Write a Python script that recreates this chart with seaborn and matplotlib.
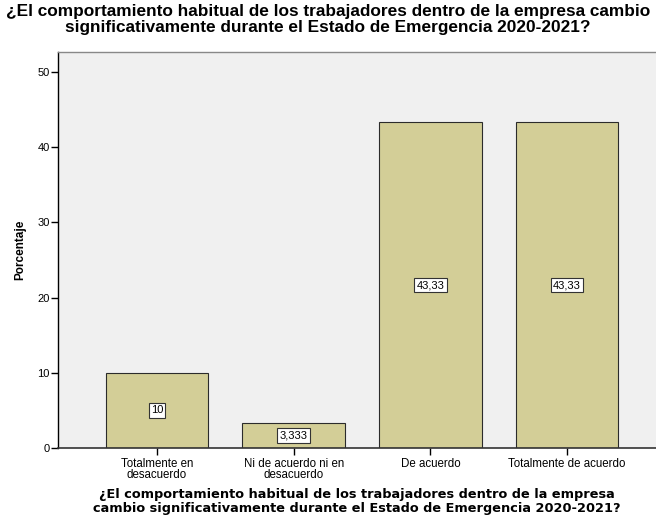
import matplotlib
matplotlib.use("Agg")
import matplotlib.pyplot as plt
import seaborn as sns
import pandas as pd

# Categories and percentages
categorias = ["Totalmente en\ndesacuerdo", "Ni de acuerdo ni en\ndesacuerdo",
              "De acuerdo", "Totalmente de acuerdo"]
porcentajes = [10.0, 3.333, 43.33, 43.33]
etiquetas = ["10", "3,333", "43,33", "43,33"]

titulo = ("¿El comportamiento habitual de los trabajadores dentro de la empresa cambio\n"
          "significativamente durante el Estado de Emergencia 2020-2021?")
titulo_x = ("¿El comportamiento habitual de los trabajadores dentro de la empresa\n"
            "cambio significativamente durante el Estado de Emergencia 2020-2021?")

df = pd.DataFrame({"categoria": categorias, "porcentaje": porcentajes})

sns.set_style("white")
plt.rcParams["font.family"] = ["Liberation Sans", "DejaVu Sans"]
plt.rcParams["text.color"] = "black"
plt.rcParams["axes.labelcolor"] = "black"
plt.rcParams["xtick.color"] = "black"
plt.rcParams["ytick.color"] = "black"

fig = plt.figure(figsize=(6.56, 5.24), dpi=100)
ax = fig.add_axes([58 / 656, 76 / 524, 1 - 58 / 656, 396 / 524])
ax.set_facecolor("#F0F0F0")

sns.barplot(data=df, x="categoria", y="porcentaje", ax=ax, color="#D3CE97",
            width=0.75, edgecolor="#2b2b2b", linewidth=0.8, saturation=1)

# value labels in white boxes at mid-height
for i, (v, t) in enumerate(zip(porcentajes, etiquetas)):
    ax.text(i, v / 2, t, ha="center", va="center", fontsize=8,
            bbox=dict(boxstyle="square,pad=0.2", fc="white", ec="#333333", lw=0.8))

ax.set_xlim(-0.724, 3.65)
ax.set_ylim(0, 52.66)
ax.set_yticks([0, 10, 20, 30, 40, 50])
ax.tick_params(axis="y", length=5, width=1, labelsize=8, pad=1, left=True)
ax.tick_params(axis="x", length=5, width=1, labelsize=8.3, pad=2, bottom=True)
for lbl in ax.get_xticklabels():
    lbl.set_linespacing(0.95)

ax.spines["left"].set_color("black")
ax.spines["left"].set_linewidth(1)
ax.spines["bottom"].set_color("#333333")
ax.spines["bottom"].set_linewidth(1.2)
ax.spines["top"].set_color("#888888")
ax.spines["top"].set_linewidth(1)
ax.spines["right"].set_visible(False)

ax.set_ylabel("Porcentaje", fontsize=8.5, fontweight="bold", labelpad=8)
ax.set_xlabel(titulo_x, fontsize=9.3, fontweight="bold", family="DejaVu Sans",
              linespacing=1.1, labelpad=5)

fig.text(0.5, 0.992, titulo, ha="center", va="top", fontsize=12.4,
         fontweight="bold", linespacing=1.05)

fig.savefig("out.png", dpi=100)
